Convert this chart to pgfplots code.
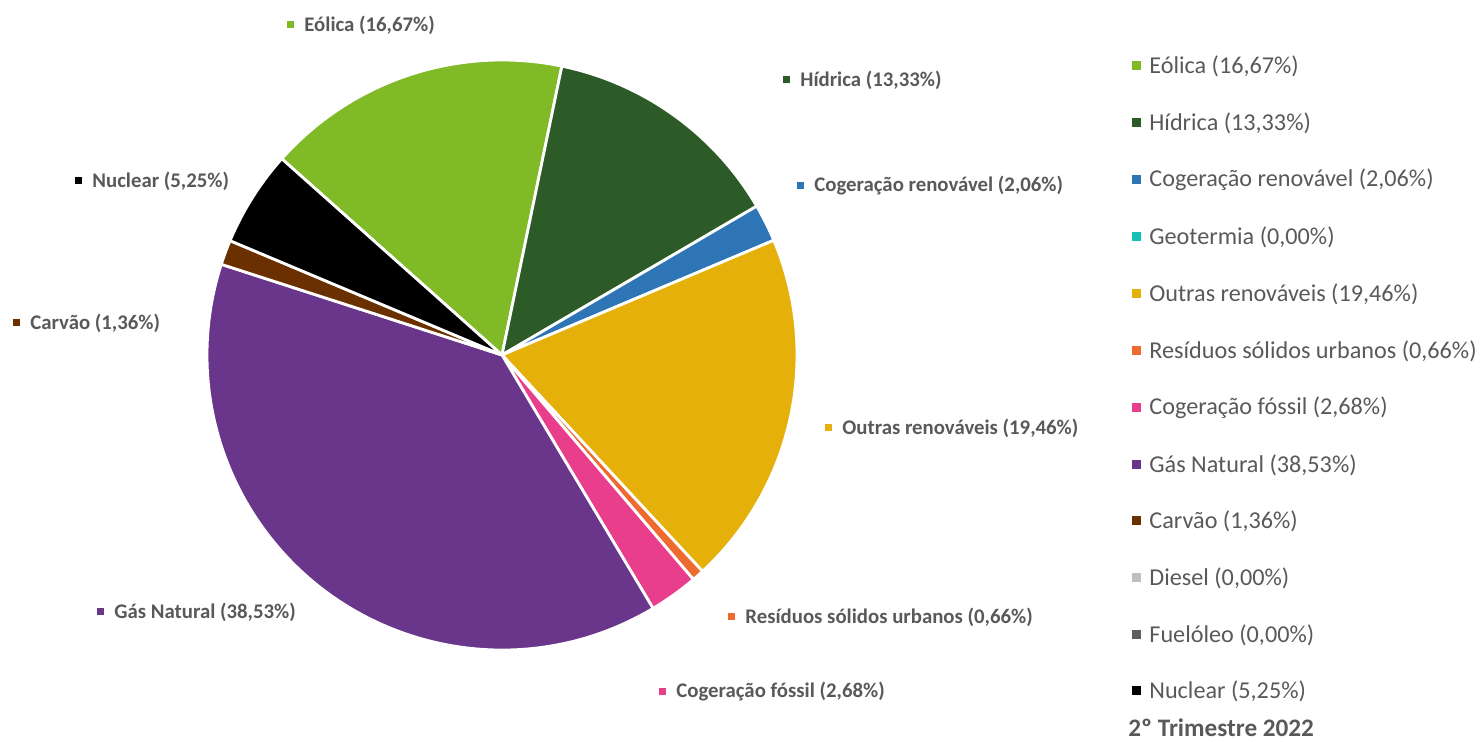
\documentclass[border=0pt]{standalone}
\usepackage{pgfplots}
\usepackage{pgfplotstable}
\pgfplotsset{compat=1.18}
\usepackage{fontspec}
\setmainfont{Carlito}
\definecolor{cEol}{HTML}{80BA27}
\definecolor{cHid}{HTML}{2D5B27}
\definecolor{cCoR}{HTML}{2E75B6}
\definecolor{cGeo}{HTML}{17C0B5}
\definecolor{cOut}{HTML}{E6B00A}
\definecolor{cRes}{HTML}{EE6A2E}
\definecolor{cCoF}{HTML}{E83E8C}
\definecolor{cGas}{HTML}{69368C}
\definecolor{cCar}{HTML}{6B3000}
\definecolor{cDie}{HTML}{BFBFBF}
\definecolor{cFue}{HTML}{5F5F5F}
\definecolor{cNuc}{HTML}{000000}
\definecolor{txt}{HTML}{595959}
\pgfplotstableread{
pct col
16.67 cEol
13.33 cHid
2.06 cCoR
0.00 cGeo
19.46 cOut
0.66 cRes
2.68 cCoF
38.53 cGas
1.36 cCar
0.00 cDie
0.00 cFue
5.25 cNuc
}\piedata
\newcommand\lbl[4]{%
  \fill[#1] (axis cs:#2-3.5,#3-3.5) rectangle (axis cs:#2+3.5,#3+3.5);
  \node[anchor=west,inner sep=0pt,font=\fontsize{10.4}{12}\selectfont\bfseries,text=txt] at (axis cs:#2+14,#3) {#4};}
\newcommand\leg[3]{%
  \fill[#1] (axis cs:1131.5,#2-4.5) rectangle (axis cs:1140.5,#2+4.5);
  \node[anchor=west,inner sep=0pt,font=\fontsize{12.1}{14}\selectfont,text=txt] at (axis cs:1149,#2) {#3};}
\begin{document}
\begin{tikzpicture}
\begin{axis}[
  x=0.5pt, y=0.5pt, y dir=reverse,
  xmin=0, xmax=1480, ymin=0, ymax=742,
  hide axis, clip=false, scale only axis]
\pgfplotsextra{%
  \path (axis cs:0,0) rectangle (axis cs:1480,742);
  \pgfplotstablegetrowsof{\piedata}%
  \pgfmathtruncatemacro\nrows{\pgfplotsretval-1}%
  \xdef\cur{138.3}%
  \foreach \i in {0,...,\nrows}{%
    \pgfplotstablegetelem{\i}{pct}\of\piedata \let\p\pgfplotsretval
    \pgfplotstablegetelem{\i}{col}\of\piedata \let\slcol\pgfplotsretval
    \pgfmathsetmacro\e{\cur-3.6*\p}%
    \ifdim\p pt>0pt
      \filldraw[fill=\slcol, draw=white, line width=1.4pt, line join=round]
        (axis cs:502,355) -- ++(canvas polar cs:angle=\cur,radius=147.5pt)
        arc[start angle=\cur, end angle=\e, radius=147.5pt] -- cycle;
    \fi
    \xdef\cur{\e}%
  }%
}
\lbl{cEol}{290}{25}{Eólica (16,67\%)}
\lbl{cHid}{786}{80}{Hídrica (13,33\%)}
\lbl{cCoR}{800}{186}{Cogeração renovável (2,06\%)}
\lbl{cOut}{828}{428}{Outras renováveis (19,46\%)}
\lbl{cRes}{731}{617}{Resíduos sólidos urbanos (0,66\%)}
\lbl{cCoF}{662}{692}{Cogeração fóssil (2,68\%)}
\lbl{cGas}{100}{612}{Gás Natural (38,53\%)}
\lbl{cCar}{16}{323}{Carvão (1,36\%)}
\lbl{cNuc}{78}{181}{Nuclear (5,25\%)}
\leg{cEol}{66}{Eólica (16,67\%)}
\leg{cHid}{123}{Hídrica (13,33\%)}
\leg{cCoR}{180}{Cogeração renovável (2,06\%)}
\leg{cGeo}{237}{Geotermia (0,00\%)}
\leg{cOut}{294}{Outras renováveis (19,46\%)}
\leg{cRes}{351}{Resíduos sólidos urbanos (0,66\%)}
\leg{cCoF}{408}{Cogeração fóssil (2,68\%)}
\leg{cGas}{465}{Gás Natural (38,53\%)}
\leg{cCar}{521}{Carvão (1,36\%)}
\leg{cDie}{578}{Diesel (0,00\%)}
\leg{cFue}{635}{Fuelóleo (0,00\%)}
\leg{cNuc}{691}{Nuclear (5,25\%)}
\node[anchor=base west,inner sep=0pt,font=\fontsize{12.6}{15}\selectfont\bfseries,text=txt] at (axis cs:1128,737) {2º Trimestre 2022};
\end{axis}
\end{tikzpicture}
\end{document}
